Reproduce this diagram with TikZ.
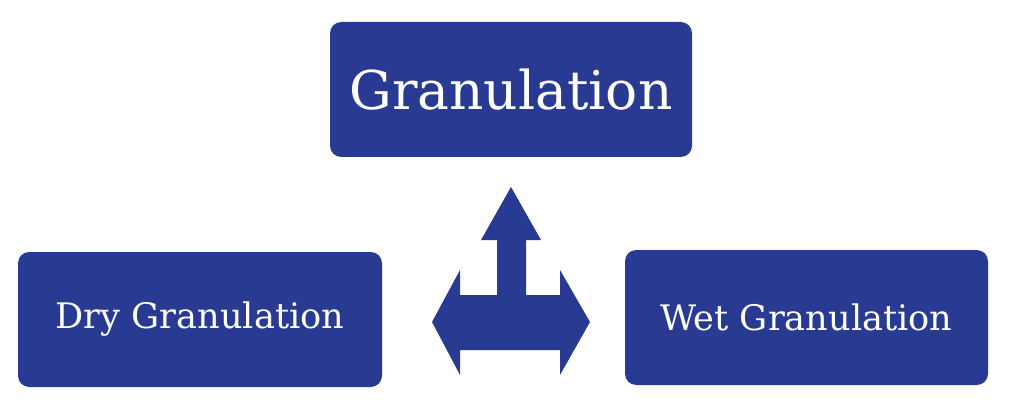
\documentclass[tikz,border=0pt]{standalone}
\usepackage{fontspec}
\setmainfont{DejaVu Serif}
\usetikzlibrary{positioning}
\definecolor{granblue}{HTML}{283A92}
\tikzstyle{blk}=[fill=granblue, rounded corners=8pt, text=white, inner sep=0pt]
\begin{document}
\begin{tikzpicture}[x=0.025cm,y=-0.025cm]
\useasboundingbox (0,0) rectangle (1024,413);
% boxes
\node[blk, minimum width=362*0.025cm, minimum height=135*0.025cm,
  font=\fontsize{38}{40}\selectfont] (gran) at (511,89.5) {Granulation};
\node[blk, minimum width=364*0.025cm, minimum height=135*0.025cm,
  font=\fontsize{25}{28}\selectfont] (dry) at (200,319.5) {Dry Granulation};
\node[blk, minimum width=363*0.025cm, minimum height=135*0.025cm,
  font=\fontsize{25}{28}\selectfont] (wet) at (806.5,317.5) {Wet Granulation};
% three way arrow
\fill[granblue] (511,187) -- (541,240) -- (526,240) -- (526,295) -- (560,295)
  -- (560,270) -- (590,322) -- (560,375) -- (560,350) -- (460,350) -- (460,375)
  -- (432,322) -- (460,270) -- (460,295) -- (497,295) -- (497,240) -- (481,240) -- cycle;
\end{tikzpicture}
\end{document}
